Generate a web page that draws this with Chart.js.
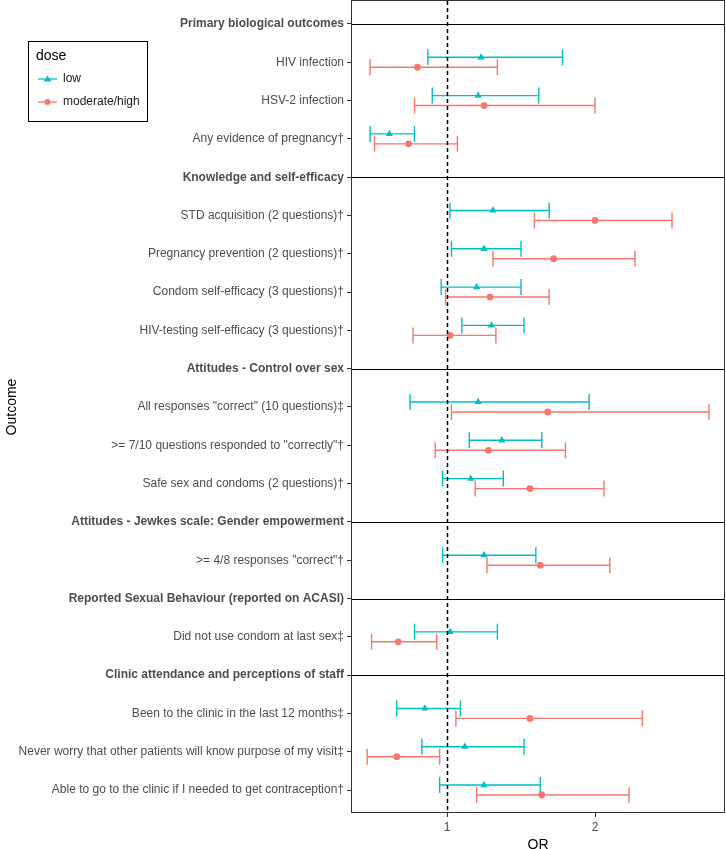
<!DOCTYPE html>
<html>
<head>
<meta charset="utf-8">
<script src="https://cdn.jsdelivr.net/npm/chart.js@4/dist/chart.umd.min.js"></script>
<style>
  html, body { margin: 0; padding: 0; background: #fff; overflow: hidden; }
  #wrap { width: 726px; height: 849px; }
</style>
</head>
<body>
<div id="wrap"><canvas id="chart" width="726" height="849"></canvas></div>
<script>
// Outcome rows, top to bottom (section headers included)
const outcomes = [
  'Primary biological outcomes',
  'HIV infection',
  'HSV-2 infection',
  'Any evidence of pregnancy†',
  'Knowledge and self-efficacy',
  'STD acquisition (2 questions)†',
  'Pregnancy prevention (2 questions)†',
  'Condom self-efficacy (3 questions)†',
  'HIV-testing self-efficacy (3 questions)†',
  'Attitudes - Control over sex',
  'All responses "correct" (10 questions)‡',
  '>= 7/10 questions responded to "correctly"†',
  'Safe sex and condoms (2 questions)†',
  'Attitudes - Jewkes scale: Gender empowerment',
  '>= 4/8 responses "correct"†',
  'Reported Sexual Behaviour (reported on ACASI)',
  'Did not use condom at last sex‡',
  'Clinic attendance and perceptions of staff',
  'Been to the clinic in the last 12 months‡',
  'Never worry that other patients will know purpose of my visit‡',
  'Able to go to the clinic if I needed to get contraception†'
];

const headers = [
  'Primary biological outcomes',
  'Knowledge and self-efficacy',
  'Attitudes - Control over sex',
  'Attitudes - Jewkes scale: Gender empowerment',
  'Reported Sexual Behaviour (reported on ACASI)',
  'Clinic attendance and perceptions of staff'
];

// dose = low
const lowOR    = [null, 1.23, 1.21, 0.61, null, 1.31, 1.25, 1.20, 1.30, null, 1.21, 1.37, 1.16, null, 1.25, null, 1.02, null, 0.85, 1.12, 1.25];
const lowLower = [null, 0.87, 0.90, 0.48, null, 1.02, 1.03, 0.96, 1.10, null, 0.75, 1.15, 0.97, null, 0.97, null, 0.78, null, 0.66, 0.83, 0.95];
const lowUpper = [null, 1.78, 1.62, 0.78, null, 1.69, 1.50, 1.50, 1.52, null, 1.96, 1.64, 1.38, null, 1.60, null, 1.34, null, 1.09, 1.52, 1.63];

// dose = moderate/high
const modOR    = [null, 0.80, 1.25, 0.74, null, 2.00, 1.72, 1.29, 1.02, null, 1.68, 1.28, 1.56, null, 1.63, null, 0.67, null, 1.56, 0.66, 1.64];
const modLower = [null, 0.48, 0.78, 0.51, null, 1.59, 1.31, 0.99, 0.77, null, 1.03, 0.92, 1.19, null, 1.27, null, 0.49, null, 1.06, 0.46, 1.20];
const modUpper = [null, 1.34, 2.00, 1.07, null, 2.52, 2.27, 1.69, 1.33, null, 2.77, 1.80, 2.06, null, 2.10, null, 0.93, null, 2.32, 0.95, 2.23];

const xTicks = [1, 2];
const refOR = 1;

const FONT = '"Liberation Sans", Arial, sans-serif';
const TEAL = '#00BFC4';
const SALMON = '#F8766D';
const DODGE = 0.13;

function buildPoints(or, lo, hi, shift) {
  const pts = [];
  or.forEach((v, i) => {
    if (v === null) return;
    pts.push({ x: v, y: i + shift, lo: lo[i], hi: hi[i] });
  });
  return pts;
}

// error bars with caps, drawn under the points
const errorBars = {
  id: 'errorBars',
  beforeDatasetsDraw(chart) {
    const { ctx, scales: { x, y } } = chart;
    chart.data.datasets.forEach(ds => {
      ctx.save();
      ctx.strokeStyle = ds.borderColor;
      ctx.lineWidth = 1.4;
      ds.data.forEach(p => {
        const py = y.getPixelForValue(p.y);
        const x0 = x.getPixelForValue(p.lo);
        const x1 = x.getPixelForValue(p.hi);
        ctx.beginPath();
        ctx.moveTo(x0, py); ctx.lineTo(x1, py);
        ctx.moveTo(x0, py - 8); ctx.lineTo(x0, py + 8);
        ctx.moveTo(x1, py - 8); ctx.lineTo(x1, py + 8);
        ctx.stroke();
      });
      ctx.restore();
    });
  }
};

// section separators, reference line and panel border
const panel = {
  id: 'panel',
  beforeDatasetsDraw(chart) {
    const { ctx, chartArea: a, scales: { y } } = chart;
    ctx.save();
    ctx.strokeStyle = '#000';
    ctx.lineWidth = 1.2;
    outcomes.forEach((o, i) => {
      if (!headers.includes(o)) return;
      const py = Math.round(y.getPixelForValue(i)) + 0.5;
      ctx.beginPath(); ctx.moveTo(a.left, py); ctx.lineTo(a.right, py); ctx.stroke();
    });
    ctx.restore();
  },
  afterDatasetsDraw(chart) {
    const { ctx, chartArea: a, scales: { x } } = chart;
    ctx.save();
    const px = Math.round(x.getPixelForValue(refOR)) + 0.5;
    ctx.strokeStyle = '#000';
    ctx.lineWidth = 1.5;
    ctx.setLineDash([4, 3]);
    ctx.beginPath(); ctx.moveTo(px, a.top); ctx.lineTo(px, a.bottom); ctx.stroke();
    ctx.setLineDash([]);
    ctx.strokeStyle = '#333';
    ctx.lineWidth = 1;
    ctx.strokeRect(a.left + 0.5, a.top - 0.5, a.right - a.left - 1, a.bottom - a.top);
    ctx.restore();
  }
};

// ggplot-style legend box to the left
const doseLegend = {
  id: 'doseLegend',
  afterDraw(chart) {
    const ctx = chart.ctx;
    ctx.save();
    ctx.strokeStyle = '#000';
    ctx.lineWidth = 1;
    ctx.strokeRect(28.5, 41.5, 119, 80);
    ctx.fillStyle = '#000';
    ctx.textBaseline = 'middle';
    ctx.font = '14px ' + FONT;
    ctx.fillText('dose', 36, 56);
    ctx.font = '12px ' + FONT;
    chart.data.datasets.forEach((ds, i) => {
      const cy = 79 + i * 23;
      ctx.strokeStyle = ds.borderColor;
      ctx.fillStyle = ds.backgroundColor;
      ctx.lineWidth = 1.3;
      ctx.beginPath(); ctx.moveTo(38, cy); ctx.lineTo(57, cy); ctx.stroke();
      ctx.beginPath();
      if (ds.pointStyle === 'triangle') {
        ctx.moveTo(47.5, cy - 3.5); ctx.lineTo(51.5, cy + 2.5); ctx.lineTo(43.5, cy + 2.5);
        ctx.closePath();
      } else {
        ctx.arc(47.5, cy, 3, 0, Math.PI * 2);
      }
      ctx.fill();
      ctx.fillStyle = '#1a1a1a';
      ctx.fillText(ds.label, 63, cy);
    });
    ctx.restore();
  }
};

new Chart(document.getElementById('chart'), {
  type: 'scatter',
  data: {
    datasets: [
      {
        label: 'low',
        data: buildPoints(lowOR, lowLower, lowUpper, -DODGE),
        pointStyle: 'triangle',
        pointRadius: 4.2,
        backgroundColor: TEAL,
        borderColor: TEAL,
        borderWidth: 0
      },
      {
        label: 'moderate/high',
        data: buildPoints(modOR, modLower, modUpper, DODGE),
        pointStyle: 'circle',
        pointRadius: 3.4,
        backgroundColor: SALMON,
        borderColor: SALMON,
        borderWidth: 0
      }
    ]
  },
  options: {
    responsive: false,
    animation: false,
    layout: { autoPadding: false, padding: { top: 1, right: 1, left: 0, bottom: 0 } },
    plugins: {
      legend: { display: false },
      tooltip: { enabled: false }
    },
    scales: {
      x: {
        type: 'linear',
        min: 0.351,
        max: 2.878,
        afterBuildTicks: s => { s.ticks = xTicks.map(v => ({ value: v })); },
        afterFit: s => { s.height = 36; s.paddingLeft = 0; s.paddingRight = 0; },
        ticks: { color: '#4D4D4D', font: { family: FONT, size: 12 }, padding: 3, autoSkip: false, callback: v => v },
        grid: { drawOnChartArea: false, drawTicks: true, tickLength: 4, color: '#333' },
        border: { display: false },
        title: { display: true, text: 'OR', color: '#000', font: { family: FONT, size: 14, lineHeight: 0.5 }, padding: 0 }
      },
      y: {
        type: 'linear',
        reverse: true,
        min: -0.6,
        max: 20.6,
        afterBuildTicks: s => { s.ticks = outcomes.map((o, i) => ({ value: i })); },
        afterFit: s => { s.width = 351; s.paddingTop = 0; s.paddingBottom = 0; },
        ticks: {
          color: '#4D4D4D',
          padding: 3,
          autoSkip: false,
          font: c => ({
            family: FONT,
            size: 12,
            weight: c.tick && headers.includes(outcomes[c.tick.value]) ? 'bold' : 'normal'
          }),
          callback: v => outcomes[v]
        },
        grid: { drawOnChartArea: false, drawTicks: true, tickLength: 4, color: '#333' },
        border: { display: false },
        title: { display: true, text: 'Outcome', color: '#000', font: { family: FONT, size: 14 }, padding: { top: 4, bottom: 0 } }
      }
    }
  },
  plugins: [errorBars, panel, doseLegend]
});
</script>
</body>
</html>
